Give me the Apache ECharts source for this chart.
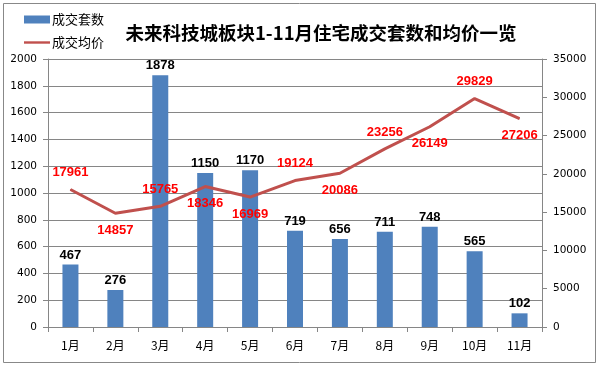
<!DOCTYPE html>
<html><head><meta charset="utf-8">
<script src="https://cdn.jsdelivr.net/npm/echarts@6/dist/echarts.min.js"></script>
<style>html,body{margin:0;padding:0;background:#fff}#c{width:599px;height:366px}</style>
</head><body><div id="c"></div>
<script>
var categories = ['1月','2月','3月','4月','5月','6月','7月','8月','9月','10月','11月'];
var dealCount = [467, 276, 1878, 1150, 1170, 719, 656, 711, 748, 565, 102];
var avgPrice = [17961, 14857, 15765, 18346, 16969, 19124, 20086, 23256, 26149, 29829, 27206];
var priceLabelPos = ['top','bottom','top','bottom','bottom','top','bottom','top','bottom','top','bottom'];
var leftTicks = [0, 2000, 200];
var rightTicks = [0, 35000, 5000];

var chart = echarts.init(document.getElementById('c'));
var axisFont = {fontFamily:'DejaVu Sans', fontSize:10.5, color:'#000', formatter:function(v){return String(v);}};
chart.setOption({
  animation:false,
  backgroundColor:'#fff',
  title:{text:'未来科技城板块1-11月住宅成交套数和均价一览', left:316, textAlign:'center', top:19,
    textStyle:{fontFamily:'Noto Sans CJK SC', fontWeight:'bold', fontSize:18.5, color:'#000'}},
  legend:{orient:'vertical', left:19, top:8, itemWidth:26, itemHeight:8, itemGap:10,
    textStyle:{fontFamily:'Noto Sans CJK SC', fontSize:13, color:'#000', padding:[0,0,0,-3]},
    data:[{name:'成交套数', icon:'rect'},
          {name:'成交均价', icon:'path://M0,0M0,8M0,2.8H26V5.2H0Z', itemStyle:{color:'#C0504D', opacity:1}}]},
  graphic:[{type:'rect', shape:{x:3.5,y:3.5,width:592,height:359}, style:{fill:null, stroke:'#888', lineWidth:1}, silent:true}],
  grid:{left:48, right:57, top:59, bottom:39},
  xAxis:{type:'category', data:categories,
    axisLine:{lineStyle:{color:'#868686'}},
    axisTick:{show:true, length:5, lineStyle:{color:'#868686'}},
    axisLabel:{fontFamily:'Noto Sans CJK SC', fontSize:12, color:'#000', margin:12}},
  yAxis:[
    {type:'value', min:leftTicks[0], max:leftTicks[1], interval:leftTicks[2],
      axisLine:{show:true, lineStyle:{color:'#868686'}},
      axisTick:{show:true, length:5, lineStyle:{color:'#868686'}},
      splitLine:{lineStyle:{color:'#868686'}},
      axisLabel:Object.assign({margin:11}, axisFont)},
    {type:'value', min:rightTicks[0], max:rightTicks[1], interval:rightTicks[2],
      axisLine:{show:true, lineStyle:{color:'#868686'}},
      axisTick:{show:true, length:5, lineStyle:{color:'#868686'}},
      splitLine:{show:false},
      axisLabel:Object.assign({margin:11}, axisFont)}
  ],
  series:[
    {name:'成交套数', type:'bar', data:dealCount, barWidth:16, yAxisIndex:0,
      itemStyle:{color:'#4F81BD'},
      label:{show:true, position:'top', distance:3, color:'#000', fontFamily:'Liberation Sans', fontWeight:'bold', fontSize:13}},
    {name:'成交均价', type:'line', yAxisIndex:1, symbol:'circle', symbolSize:1, showSymbol:true,
      data:avgPrice.map(function(v,i){return {value:v, label:{position:priceLabelPos[i]}};}),
      lineStyle:{color:'#C0504D', width:3}, itemStyle:{color:'#C0504D'},
      label:{show:true, distance:10, color:'#FF0000', fontFamily:'Liberation Sans', fontWeight:'bold', fontSize:13}}
  ]
});
</script></body></html>
